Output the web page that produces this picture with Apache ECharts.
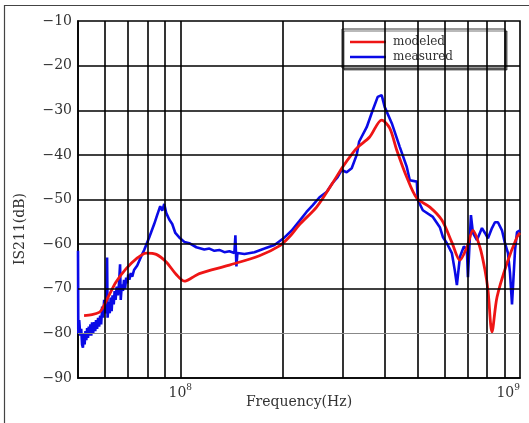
<!DOCTYPE html>
<html>
<head>
<meta charset="utf-8">
<script src="https://cdn.jsdelivr.net/npm/echarts@6/dist/echarts.min.js"></script>
<style>html,body{margin:0;padding:0;background:#fff}#c{width:529px;height:423px}</style>
</head>
<body>
<div id="c"></div>
<script>
// Frequencies in MHz, values in dB
var modeledFreq = [52.1, 55.0, 57.7, 58.9, 61.7, 64.7, 69.3, 74.2, 79.4, 85.0, 90.9, 97.3, 102.8, 108.5, 113.8, 139.5, 171.0, 195.9, 210.0, 224.4, 251.9, 280.8, 300.6, 321.7, 332.8, 361.0, 391.6, 413.5, 433.6, 464.2, 496.9, 542.8, 588.8, 630.1, 665.3, 697.8, 726.8, 762.2, 788.6, 804.9, 827.0, 855.6, 915.6, 979.9, 1000];
var modeledDb   = [-76.0, -75.8, -75.3, -74.5, -71.5, -68.5, -65.5, -63.3, -62.0, -62.3, -64.0, -66.8, -68.3, -67.5, -66.6, -64.7, -62.6, -60.4, -58.3, -55.6, -51.7, -46.3, -42.7, -39.6, -38.3, -36.0, -32.2, -34.0, -38.9, -45.0, -49.7, -51.7, -54.6, -59.6, -63.6, -60.7, -56.9, -60.7, -65.8, -70.3, -79.7, -71.9, -64.3, -58.4, -57.5];

var measuredFreq = [50.0, 50.1, 50.4, 50.8, 51.1, 51.4, 51.7, 52.0, 52.3, 52.6, 52.9, 53.2, 53.5, 53.8, 54.1, 54.4, 54.7, 55.0, 55.4, 55.8, 56.2, 56.5, 56.9, 57.3, 57.7, 58.1, 58.5, 58.9, 59.3, 59.7, 60.1, 60.5, 60.9, 61.1, 61.6, 62.0, 62.4, 62.8, 63.2, 63.7, 64.1, 64.5, 65.0, 65.5, 66.0, 66.5, 66.8, 67.3, 67.8, 68.3, 68.8, 69.3, 69.8, 70.3, 70.8, 71.5, 72.2, 73.1, 74.0, 74.7, 75.5, 76.2, 77.2, 78.3, 81.0, 83.8, 85.5, 87.3, 88.5, 89.7, 90.9, 92.8, 94.7, 96.7, 99.3, 102.8, 106.3, 111.5, 117.7, 121.8, 126.0, 130.3, 134.9, 139.5, 144.3, 145.3, 146.3, 147.3, 154.5, 165.3, 177.0, 189.4, 202.7, 212.5, 224.4, 235.3, 245.2, 257.0, 269.6, 280.8, 290.5, 298.5, 308.8, 319.6, 330.6, 336.2, 353.8, 368.5, 381.2, 391.6, 399.8, 419.3, 442.6, 464.2, 473.8, 496.9, 500.3, 517.5, 554.0, 580.8, 592.8, 609.1, 630.1, 643.1, 652.0, 665.3, 683.6, 697.8, 702.6, 717.1, 726.8, 746.9, 772.7, 788.6, 804.9, 827.0, 843.9, 861.1, 885.0, 903.2, 921.8, 934.6, 947.3, 967.0, 979.9, 1000];
var measuredDb   = [-61.5, -80.0, -77.0, -80.5, -79.0, -82.5, -83.2, -80.0, -82.5, -79.5, -81.5, -78.8, -81.0, -78.5, -80.5, -78.0, -80.5, -77.5, -80.0, -77.5, -79.5, -77.0, -79.0, -76.5, -78.5, -76.0, -78.0, -74.0, -76.5, -72.5, -75.5, -73.0, -63.0, -76.5, -73.0, -75.5, -72.0, -75.0, -71.5, -73.5, -70.5, -72.5, -69.5, -71.5, -69.0, -64.5, -72.5, -69.0, -70.5, -68.0, -70.0, -67.5, -68.8, -66.8, -68.0, -66.5, -67.3, -65.8, -66.0, -64.8, -64.5, -63.3, -62.3, -61.3, -58.5, -55.5, -53.5, -51.5, -52.5, -51.0, -53.0, -54.5, -55.5, -57.5, -58.5, -59.5, -59.8, -60.7, -61.2, -61.0, -61.5, -61.3, -61.8, -61.6, -62.0, -58.0, -65.0, -62.0, -62.2, -61.8, -61.0, -60.2, -58.5, -57.0, -54.8, -52.8, -51.3, -49.5, -48.3, -46.3, -45.0, -43.4, -43.9, -43.0, -40.0, -37.0, -33.8, -30.0, -27.0, -26.6, -29.3, -32.9, -38.2, -42.7, -45.7, -46.0, -50.1, -52.4, -53.9, -56.2, -58.4, -59.8, -62.0, -66.0, -69.2, -62.9, -60.5, -61.3, -67.4, -53.5, -57.5, -59.1, -56.4, -57.5, -58.7, -56.4, -55.1, -55.1, -56.9, -59.8, -62.0, -66.5, -73.5, -61.3, -57.3, -56.9];

var xMinorLines = [60, 70, 80, 90, 100, 200, 300, 400, 500, 600, 700, 800, 900];
var yBlackLines = [-70, -60, -50, -40, -30, -20];
var yGrayLines = [-80];
var yTicks = {min: -90, max: -10, step: 10};

function pairs(fs, vs) {
  var out = [];
  for (var i = 0; i < fs.length; i++) out.push([fs[i] * 1e6, vs[i]]);
  return out;
}

var font = 'DejaVu Serif';
var chart = echarts.init(document.getElementById('c'));
var markData = [];
xMinorLines.forEach(function (v) {
  markData.push({xAxis: v * 1e6, lineStyle: {color: '#000', width: 1.6, type: 'solid'}});
});
yBlackLines.forEach(function (v) {
  markData.push({yAxis: v, lineStyle: {color: '#000', width: 1.6, type: 'solid'}});
});
yGrayLines.forEach(function (v) {
  markData.push({yAxis: v, lineStyle: {color: '#888', width: 1, type: 'solid'}});
});

chart.setOption({
  animation: false,
  backgroundColor: '#fff',
  graphic: [
    {type: 'rect', shape: {x: 4.5, y: 5.5, width: 600, height: 600}, style: {fill: 'none', stroke: '#444', lineWidth: 1.2}, z: 0},
    {type: 'text', x: 20, y: 229, rotation: Math.PI / 2, style: {text: 'IS211(dB)', font: '14px "DejaVu Serif"', fill: '#333', textAlign: 'center', textVerticalAlign: 'middle'}, z: 10}
  ],
  grid: {left: 78, top: 21, right: 9, bottom: 45, show: true, borderColor: '#000', borderWidth: 1.6, backgroundColor: 'transparent'},
  legend: {
    left: 342, top: 29,
    orient: 'vertical',
    icon: 'rect',
    itemWidth: 36, itemHeight: 2.5, itemGap: 1,
    padding: [6, 52, 4, 8],
    backgroundColor: '#fff',
    borderColor: '#333', borderWidth: 1,
    shadowColor: 'rgba(0,0,0,0.55)', shadowBlur: 0, shadowOffsetX: 2, shadowOffsetY: 2,
    textStyle: {fontFamily: font, fontSize: 12, color: '#333', padding: [0, 0, 0, 2], lineHeight: 14},
    data: ['modeled', 'measured']
  },
  xAxis: {
    type: 'log', logBase: 10, min: 5e7, max: 1e9,
    name: 'Frequency(Hz)', nameLocation: 'middle', nameGap: 17, nameMoveOverlap: false,
    nameTextStyle: {fontFamily: font, fontSize: 14, color: '#333'},
    axisLine: {show: true, lineStyle: {color: '#000', width: 1.6}},
    axisTick: {show: false},
    splitLine: {show: false},
    axisLabel: {
      margin: 5, showMinLabel: false, alignMaxLabel: 'right',
      formatter: function (v) {
        var e = Math.log10(v);
        if (Math.abs(e - Math.round(e)) > 1e-6) return '';
        return '{b|10}{s|' + Math.round(e) + '}';
      },
      rich: {
        b: {fontFamily: font, fontSize: 14, color: '#333', verticalAlign: 'bottom'},
        s: {fontFamily: font, fontSize: 9, color: '#333', verticalAlign: 'top', padding: [0, 0, 8, 0]}
      }
    }
  },
  yAxis: {
    type: 'value', min: yTicks.min, max: yTicks.max, interval: yTicks.step,
    axisLine: {show: true, lineStyle: {color: '#000', width: 1.6}},
    axisTick: {show: false},
    splitLine: {show: false},
    axisLabel: {
      margin: 6, fontFamily: font, fontSize: 14, color: '#333',
      formatter: function (v) { return String(v).replace('-', '\u2212'); }
    }
  },
  series: [
    {
      type: 'line', name: 'grid', data: [], z: 1, silent: true,
      markLine: {silent: true, symbol: ['none', 'none'], label: {show: false}, animation: false, data: markData}
    },
    {
      type: 'line', name: 'measured', data: pairs(measuredFreq, measuredDb),
      symbol: 'none', z: 3, lineStyle: {color: '#0a0ae6', width: 2.6}, itemStyle: {color: '#0a0ae6'}
    },
    {
      type: 'line', name: 'modeled', data: pairs(modeledFreq, modeledDb),
      symbol: 'none', smooth: 0.3, z: 4, lineStyle: {color: '#ee1515', width: 2.8}, itemStyle: {color: '#ee1515'}
    }
  ]
});
</script>
</body>
</html>
